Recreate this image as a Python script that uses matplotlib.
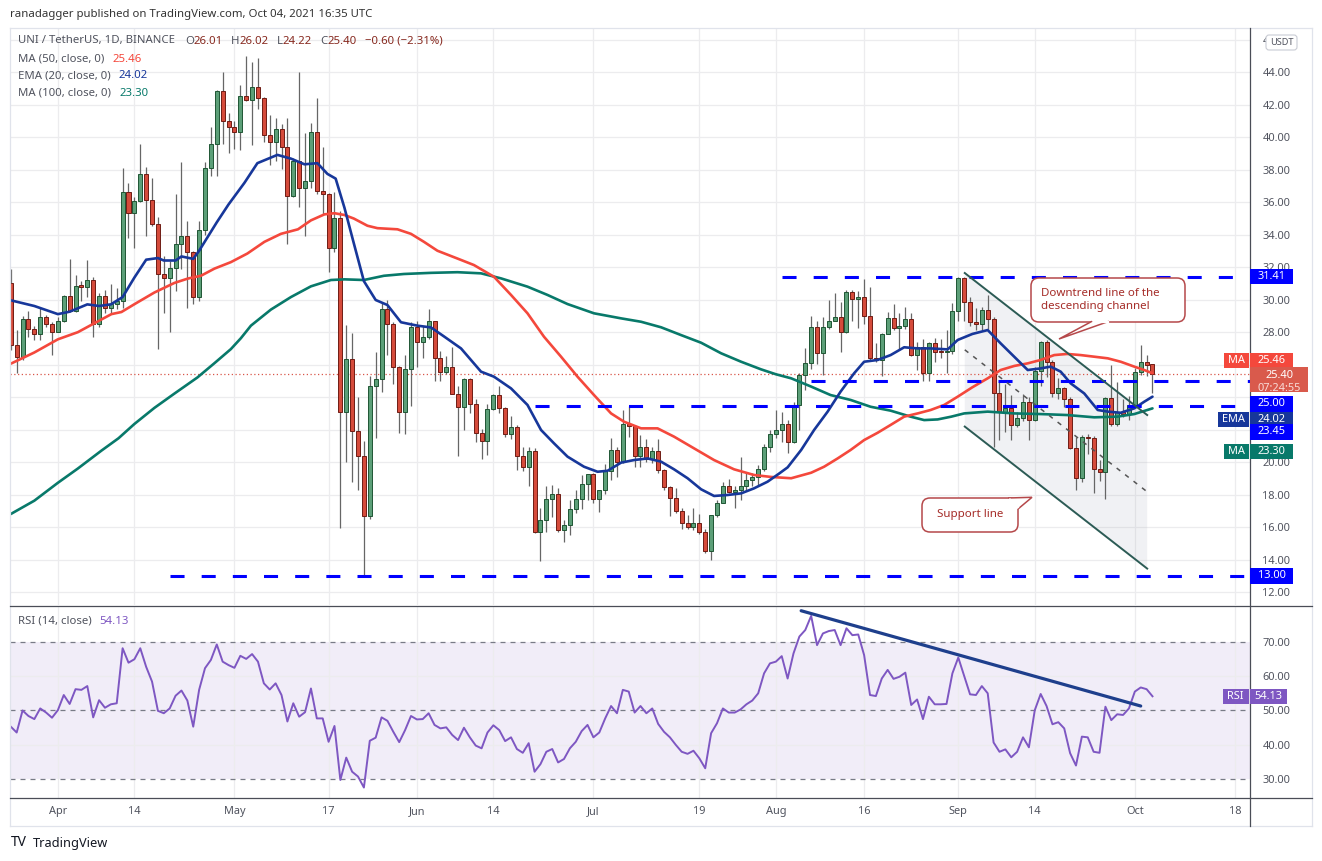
import numpy as np
import pandas as pd
import matplotlib
matplotlib.use("Agg")
import matplotlib.pyplot as plt
import matplotlib.transforms as mtransforms
from matplotlib.patches import Rectangle, FancyBboxPatch, Polygon
from matplotlib.lines import Line2D

plt.rcParams['font.family'] = ['Noto Sans', 'DejaVu Sans']

W, H = 1322, 861
START = pd.Timestamp("2021-03-24")

# UNI/USDT daily candles, Mar 24 .. Oct 4 2021: (open, high, low, close)
candles = [
    (31.0, 31.9, 26.9, 27.2), (27.2, 28.1, 25.5, 26.45), (26.45, 29.0, 26.3, 28.8), (28.8, 29.3, 27.7, 28.2), (28.2, 28.4, 27.5, 27.85),
    (27.85, 29.45, 27.5, 28.95), (28.95, 29.05, 28.3, 28.5), (28.5, 28.6, 26.6, 28.0), (28.0, 28.95, 28.0, 28.65), (28.65, 30.25, 28.6, 30.2),
    (30.2, 32.5, 29.25, 29.3), (29.3, 31.5, 29.25, 30.85), (30.85, 31.15, 29.9, 30.8), (30.8, 32.45, 30.15, 31.2), (31.2, 31.4, 27.7, 28.5),
    (28.5, 30.4, 28.3, 30.2), (30.2, 30.6, 29.15, 29.5), (29.5, 30.95, 29.15, 29.7), (29.7, 30.7, 29.4, 29.9), (29.9, 38.1, 29.5, 36.6),
    (36.6, 37.2, 33.8, 35.35), (35.35, 36.3, 33.2, 36.05), (36.05, 39.55, 36.0, 37.7), (37.7, 38.15, 33.9, 36.1), (36.1, 37.5, 34.5, 34.65),
    (34.65, 35.1, 26.95, 31.6), (31.6, 32.65, 29.15, 31.3), (31.3, 32.35, 28.0, 31.95), (31.95, 36.5, 30.5, 33.4), (33.4, 38.45, 31.9, 33.9),
    (33.9, 34.85, 29.5, 32.9), (32.9, 33.0, 29.75, 30.15), (30.15, 34.85, 29.9, 34.3), (34.3, 38.45, 34.0, 38.1), (38.1, 40.6, 37.6, 39.6),
    (39.6, 42.9, 37.6, 42.85), (42.85, 44.0, 39.6, 41.0), (41.0, 41.45, 39.0, 40.6), (40.6, 41.0, 39.25, 40.3), (40.3, 43.2, 39.2, 42.55),
    (42.55, 45.0, 42.2, 42.25), (42.25, 44.6, 39.5, 43.05), (43.05, 44.85, 41.7, 42.4), (42.4, 42.45, 39.7, 40.15), (40.15, 41.35, 38.3, 39.7),
    (39.7, 41.15, 38.5, 40.5), (40.5, 40.8, 38.05, 39.4), (39.4, 41.2, 33.4, 36.35), (36.35, 38.7, 36.3, 38.5), (38.5, 44.0, 35.7, 36.85),
    (36.85, 40.25, 33.9, 37.3), (37.3, 40.85, 36.85, 40.3), (40.3, 42.4, 36.5, 36.65), (36.65, 39.4, 35.2, 36.5), (36.5, 36.55, 31.7, 33.2),
    (33.2, 36.6, 32.95, 35.0), (35.0, 35.45, 15.95, 23.1), (23.1, 28.45, 20.0, 26.35), (26.35, 27.95, 18.8, 21.9), (21.9, 24.0, 18.3, 20.35),
    (20.35, 21.3, 12.95, 16.65), (16.65, 25.3, 16.5, 24.65), (24.65, 26.75, 21.45, 25.1), (25.1, 29.8, 24.3, 29.4), (29.4, 29.95, 26.6, 28.5),
    (28.5, 28.6, 24.8, 25.85), (25.85, 25.9, 21.8, 23.1), (23.1, 26.6, 21.7, 25.75), (25.75, 28.6, 23.45, 28.3), (28.3, 28.7, 25.85, 27.4),
    (27.4, 28.4, 26.4, 27.7), (27.7, 29.4, 27.55, 28.65), (28.65, 28.7, 25.0, 26.4), (26.4, 26.85, 25.0, 25.55), (25.55, 26.5, 25.4, 25.85),
    (25.85, 27.05, 24.2, 24.2), (24.2, 24.65, 20.4, 23.4), (23.4, 25.15, 22.0, 25.1), (25.1, 25.2, 23.0, 23.55), (23.55, 23.85, 21.25, 21.8),
    (21.8, 22.05, 20.2, 21.3), (21.3, 23.6, 20.45, 23.25), (23.25, 24.2, 23.2, 24.1), (24.1, 24.7, 23.0, 23.35), (23.35, 23.4, 21.55, 21.75),
    (21.75, 22.85, 21.4, 22.15), (22.15, 22.3, 19.5, 20.35), (20.35, 20.9, 19.45, 19.7), (19.7, 20.95, 18.5, 20.7), (20.7, 20.85, 15.65, 15.7),
    (15.7, 17.15, 13.9, 16.45), (16.45, 18.5, 15.7, 17.75), (17.75, 18.6, 16.6, 18.05), (18.05, 18.4, 15.7, 15.8), (15.8, 16.45, 15.05, 16.1),
    (16.1, 17.65, 15.5, 17.1), (17.1, 18.25, 16.85, 17.7), (17.7, 19.2, 17.1, 18.65), (18.65, 19.25, 17.65, 19.25), (19.25, 19.3, 17.5, 17.75),
    (17.75, 18.25, 16.9, 18.25), (18.25, 19.9, 18.05, 19.45), (19.45, 21.45, 18.9, 20.75), (20.75, 20.95, 19.05, 20.0), (20.0, 23.2, 19.95, 22.35),
    (22.35, 23.45, 21.55, 22.2), (22.2, 22.25, 19.7, 20.35), (20.35, 21.65, 19.7, 20.95), (20.95, 21.4, 20.0, 20.2), (20.2, 20.9, 19.95, 20.65),
    (20.65, 21.4, 19.3, 19.5), (19.5, 19.55, 18.3, 18.45), (18.45, 18.5, 16.65, 17.8), (17.8, 18.4, 16.85, 17.0), (17.0, 17.15, 15.85, 16.25),
    (16.25, 16.75, 15.9, 16.0), (16.0, 17.15, 15.8, 16.25), (16.25, 16.8, 15.6, 15.7), (15.7, 15.9, 14.4, 14.5), (14.5, 16.75, 13.95, 16.75),
    (16.75, 17.65, 16.6, 17.5), (17.5, 18.75, 17.45, 18.55), (18.55, 18.95, 18.1, 18.15), (18.15, 18.5, 17.2, 18.3), (18.3, 20.3, 17.65, 18.5),
    (18.5, 19.35, 18.2, 18.9), (18.9, 19.3, 18.5, 19.1), (19.1, 19.8, 18.5, 19.55), (19.55, 21.1, 19.45, 20.9), (20.9, 21.95, 20.6, 21.7),
    (21.7, 23.2, 21.5, 21.95), (21.95, 23.05, 21.25, 22.35), (22.35, 22.6, 20.55, 21.25), (21.25, 23.7, 21.2, 23.5), (23.5, 25.45, 21.95, 25.35),
    (25.35, 27.0, 24.45, 26.1), (26.1, 29.0, 25.75, 28.3), (28.3, 28.7, 26.05, 26.7), (26.7, 28.9, 25.35, 28.3), (28.3, 30.0, 28.2, 28.7),
    (28.7, 30.4, 28.65, 28.9), (28.9, 29.85, 26.8, 28.0), (28.0, 30.6, 27.95, 30.45), (30.45, 30.6, 28.65, 30.05), (30.05, 30.5, 28.25, 30.15),
    (30.15, 31.25, 28.5, 29.0), (29.0, 30.75, 26.3, 26.4), (26.4, 27.3, 26.15, 26.25), (26.25, 27.95, 25.3, 27.9), (27.9, 29.25, 27.85, 28.85),
    (28.85, 29.75, 28.1, 28.25), (28.25, 29.15, 26.95, 28.35), (28.35, 29.55, 28.2, 28.8), (28.8, 29.2, 26.5, 26.6), (26.6, 27.4, 25.65, 27.05),
    (27.05, 27.55, 25.0, 25.45), (25.45, 27.4, 25.0, 27.35), (27.35, 27.65, 26.15, 26.8), (26.8, 27.6, 26.4, 26.75), (26.75, 28.15, 25.5, 26.85),
    (26.85, 29.8, 26.65, 29.3), (29.3, 31.4, 28.65, 31.3), (31.3, 31.4, 28.7, 29.85), (29.85, 30.15, 28.35, 28.6), (28.6, 29.45, 28.1, 28.5),
    (28.5, 29.55, 28.1, 29.35), (29.35, 30.3, 28.2, 28.8), (28.8, 28.95, 20.95, 24.25), (24.25, 24.95, 21.35, 23.1), (23.1, 24.8, 21.85, 23.3),
    (23.3, 24.1, 21.35, 22.3), (22.3, 23.1, 22.15, 22.7), (22.7, 24.2, 22.5, 23.7), (23.7, 24.0, 21.35, 22.6), (22.6, 25.85, 22.55, 25.6),
    (25.6, 27.45, 24.65, 27.4), (27.4, 27.5, 25.25, 26.15), (26.15, 26.3, 24.0, 24.25), (24.25, 25.15, 23.9, 24.55), (24.55, 24.6, 23.4, 23.85),
    (23.85, 24.0, 20.8, 20.85), (20.85, 21.55, 18.3, 19.0), (19.0, 21.65, 18.8, 21.55), (21.55, 21.7, 20.5, 21.45), (21.45, 21.6, 18.1, 19.6),
    (19.6, 20.1, 18.85, 19.4), (19.4, 24.0, 17.7, 23.95), (23.95, 26.0, 22.2, 22.35), (22.35, 24.95, 22.2, 23.05), (23.05, 23.85, 22.8, 22.95),
    (22.95, 24.05, 22.6, 23.5), (23.5, 25.8, 23.4, 25.55), (25.55, 27.2, 25.35, 26.15), (26.15, 26.6, 25.3, 26.0), (26.01, 26.02, 24.22, 25.4),
]

# moving averages (candle index, value)
ema20_x = [0, 4, 8, 10, 13, 15, 17, 19, 21, 23, 25, 26, 28, 29, 31, 32, 35, 37, 39.7, 41.9, 45.3, 47.6, 49.9, 52.1, 53.8, 55.2,
           56.7, 58.3, 60, 62, 64, 66.3, 69.1, 71.4, 73.6, 76.5, 79.9, 82.1, 85, 87.8, 90.1, 92.3, 94.6, 97.4, 99.7, 101.4,
           103.7, 105.9, 108.2, 110.5, 112.7, 115, 117.3, 119.5, 121.8, 124.1, 126.3, 128.6, 130.6, 132, 134.3, 136.5, 138.8,
           141, 143.3, 145, 147.3, 149.5, 151.8, 154.1, 156.3, 159.2, 160.9, 163.4, 166, 168.2, 170.5, 172.8, 175, 176.7,
           178.4, 180.1, 182.4, 184.7, 186.4, 188.6, 190.9, 192.6, 194]
ema20_y = [29.95, 29.6, 29.1, 29.25, 29.7, 29.6, 29.7, 30.15, 31.35, 32.45, 32.55, 32.4, 32.4, 32.65, 32.5, 33.0, 34.75, 35.85,
           37.18, 38.39, 38.9, 38.67, 38.32, 38.39, 37.73, 37.44, 35.64, 33.44, 31.13, 29.97, 29.66, 28.6, 28.39, 28.28, 27.73,
           26.99, 25.56, 25.25, 24.53, 23.51, 21.97, 21.15, 20.33, 19.71, 19.4, 19.46, 19.96, 20.12, 20.22, 20.02, 19.55, 19.0,
           18.32, 17.91, 17.97, 18.07, 18.38, 18.79, 19.3, 19.67, 20.74, 21.97, 23.1, 24.33, 25.46, 26.17, 26.28, 26.58, 27.06,
           26.99, 26.99, 26.93, 27.51, 27.88, 28.12, 27.3, 26.48, 25.66, 25.76, 25.87, 25.56, 24.84, 24.22, 23.2, 23.1, 23.03,
           23.3, 23.71, 24.02]

ma50_x = [0, 4, 8, 11.4, 14.2, 17.1, 18.8, 21, 24.4, 27.8, 30.1, 32.3, 34.6, 37.4, 40.2, 43.1, 45.9, 48.8, 51, 53.3, 55, 56.7,
          58.3, 60.6, 62.3, 65.7, 68, 70.2, 72.5, 75.9, 78.7, 82.1, 85, 87.8, 90.6, 93.5, 96.3, 99.1, 102, 104.2, 107.1, 109.9,
          112.7, 116.1, 119.5, 122.9, 126.3, 129.2, 132.6, 136, 138.2, 140.5, 142.7, 145, 147.3, 149.5, 151.8, 154.1, 156.3,
          158.6, 160.9, 163.4, 166, 168.2, 170.5, 172.8, 175, 177.3, 179.5, 181.8, 184.1, 186.4, 188.6, 190.9, 192.6, 194]
ma50_y = [26.05, 26.74, 27.55, 27.99, 28.54, 29.1, 29.23, 29.71, 30.43, 31.02, 31.29, 31.46, 31.9, 32.3, 32.83, 33.55, 34.04,
          34.32, 34.87, 35.24, 35.31, 35.2, 34.98, 34.54, 34.39, 34.32, 34.04, 33.55, 33.0, 32.52, 32.12, 31.4, 30.28, 29.15,
          27.71, 26.48, 25.25, 24.12, 22.99, 22.48, 22.07, 22.07, 21.56, 20.84, 20.12, 19.55, 19.2, 19.08, 19.0, 19.34, 19.71,
          20.22, 20.74, 21.35, 21.8, 22.28, 22.79, 22.99, 23.2, 23.51, 24.02, 24.6, 25.15, 25.66, 25.91, 26.07, 26.28, 26.58,
          26.65, 26.58, 26.48, 26.38, 26.17, 25.87, 25.66, 25.46]

ma100_x = [0, 4, 8, 11.4, 15.4, 18.3, 21, 24.4, 27.8, 31.7, 34.6, 37.4, 39.1, 40.8, 44.2, 47.6, 51, 54.4, 56.7, 60, 63.4, 66.8,
           71.4, 75.9, 79.9, 83.3, 87.8, 91.2, 94.6, 99.1, 103.7, 107.1, 110.5, 113.9, 117.3, 120.7, 124.1, 127.5, 130, 132.6,
           136, 139.3, 142.7, 146.1, 149.5, 152.9, 155.2, 157.5, 159.8, 162, 166, 170.5, 175, 179.5, 184.1, 188, 190.9, 194]
ma100_y = [16.8, 17.62, 18.72, 19.6, 20.7, 21.46, 22.34, 23.33, 24.21, 25.2, 26.08, 26.95, 27.62, 28.39, 29.38, 30.15, 30.81,
           31.2, 31.24, 31.2, 31.46, 31.57, 31.64, 31.68, 31.61, 31.3, 30.79, 30.28, 29.72, 29.15, 28.84, 28.63, 28.29, 27.81,
           27.34, 26.69, 26.17, 25.7, 25.4, 25.15, 24.64, 24.12, 23.82, 23.4, 23.16, 22.79, 22.58, 22.62, 22.79, 22.99, 23.1,
           22.99, 22.95, 22.89, 22.75, 22.79, 22.95, 23.30]

rsi14 = [45.3, 43.6, 50.0, 48.4, 47.5, 50.6, 49.4, 47.9, 50.1, 54.5,
         51.9, 56.2, 56.0, 57.1, 48.0, 53.0, 50.8, 51.8, 52.1, 68.1,
         63.9, 64.9, 68.1, 62.7, 58.4, 49.9, 49.2, 50.6, 54.3, 55.8,
         52.9, 45.3, 56.0, 62.3, 64.7, 69.2, 64.2, 63.2, 62.4, 65.9,
         65.0, 66.4, 64.2, 57.9, 56.1, 57.9, 54.5, 46.8, 52.1, 48.2,
         49.5, 56.4, 47.7, 47.7, 40.9, 45.5, 29.8, 36.3, 32.2, 30.8,
         27.6, 41.2, 42.1, 48.0, 47.0, 43.8, 40.8, 44.3, 48.4, 47.4,
         47.5, 49.2, 45.8, 44.8, 45.1, 42.9, 41.4, 45.0, 42.2, 39.8,
         39.0, 43.6, 45.7, 44.3, 41.1, 42.2, 38.8, 37.7, 40.5, 32.2,
         34.4, 38.0, 38.8, 34.9, 35.9, 39.0, 40.9, 44.0, 45.8, 42.2,
         43.6, 47.7, 51.3, 49.2, 56.0, 55.5, 49.4, 51.3, 49.2, 50.6,
         46.1, 43.8, 42.2, 40.0, 38.0, 37.4, 38.3, 36.1, 33.2, 43.4,
         46.3, 50.6, 49.4, 49.4, 50.3, 51.8, 52.9, 55.0, 60.8, 63.7,
         64.2, 65.8, 59.3, 66.6, 71.5, 73.4, 77.5, 69.0, 72.4, 73.1,
         73.4, 69.0, 73.9, 71.9, 72.1, 66.1, 54.5, 54.2, 59.3, 61.8,
         59.2, 59.8, 61.0, 51.6, 53.2, 47.5, 54.0, 51.8, 51.8, 51.9,
         60.8, 65.4, 60.0, 54.7, 54.5, 57.1, 55.0, 40.7, 38.0, 38.7,
         36.4, 38.0, 42.2, 39.3, 50.1, 54.8, 51.3, 46.0, 46.6, 44.8,
         37.6, 34.0, 42.4, 42.2, 38.0, 37.7, 51.1, 47.2, 48.9, 48.7,
         50.6, 55.5, 56.7, 56.2, 54.13]

# horizontal levels and where they start
levels = [31.41, 25.00, 23.45, 13.00]
level_start = ["2021-08-02", "2021-08-07", "2021-06-21", "2021-04-20"]

# descending channel (index, upper-line price), lower line shifted down
channel_x = [162.1, 193.1]
channel_top = [31.63, 22.89]
channel_drop = 9.45

rsi_trend_x = [134.3, 192.0]
rsi_trend_y = [79.0, 51.3]

tick_dates = ["2021-04-01", "2021-04-14", "2021-05-01", "2021-05-17", "2021-06-01", "2021-06-14", "2021-07-01",
              "2021-07-19", "2021-08-01", "2021-08-16", "2021-09-01", "2021-09-14", "2021-10-01", "2021-10-18"]
tick_labels = ["Apr", "14", "May", "17", "Jun", "14", "Jul", "19", "Aug", "16", "Sep", "14", "Oct", "18"]
price_ticks = np.arange(12, 47, 2)
hidden_price_ticks = [22, 24, 26]   # covered by the stacked price labels

opens, highs, lows, closes = [np.array(v) for v in zip(*candles)]
idx = np.arange(len(candles))


def day_index(d):
    return (pd.Timestamp(d) - START).days


GREEN, GREEN_EDGE = '#5c9f78', '#1f5634'
RED, RED_EDGE = '#d54b3b', '#6f1c14'
C_EMA, C_MA50, C_MA100 = '#17379a', '#f4483c', '#08796a'
C_RSI = '#7e57c2'
BLUE = '#0000ff'
GRAY_TXT = '#50535e'
FS = 7.9

fig = plt.figure(figsize=(W / 100, H / 100), dpi=100)
pix = mtransforms.Affine2D().scale(1.0 / W, 1.0 / H) + fig.transFigure


def frac(x0, y0, x1, y1):
    return [x0 / W, 1 - y1 / H, (x1 - x0) / W, (y1 - y0) / H]


ax = fig.add_axes(frac(10, 28, 1250, 605))
ax2 = fig.add_axes(frac(10, 606, 1250, 798), sharex=ax)

x_lo, x_hi = (10 - 10.8) / 5.885, (1250 - 10.8) / 5.885
ax.set_xlim(x_lo, x_hi)
ax.set_ylim(11.2, 46.708)
ax2.set_ylim(24.56, 80.38)

# candles
up = closes >= opens
ax.vlines(idx, lows, highs, color='#666666', lw=0.9, zorder=3)
ax.bar(idx, np.maximum(np.abs(closes - opens), 0.07), bottom=np.minimum(opens, closes), width=0.68,
       color=np.where(up, GREEN, RED), edgecolor=np.where(up, GREEN_EDGE, RED_EDGE), linewidth=0.7, zorder=4)

# moving averages
ax.plot(ma100_x, ma100_y, color=C_MA100, lw=1.9, zorder=5, solid_capstyle='round')
ax.plot(ma50_x, ma50_y, color=C_MA50, lw=1.9, zorder=5, solid_capstyle='round')
ax.plot(ema20_x, ema20_y, color=C_EMA, lw=1.9, zorder=6, solid_capstyle='round')

# current price dotted line
ax.axhline(closes[-1], color='#d9574a', lw=0.9, ls=(0, (1, 2)), zorder=2)

# horizontal levels
for lv, st in zip(levels, level_start):
    ax.hlines(lv, day_index(st), x_hi, color=BLUE, lw=2.2, linestyles=(0, (4.6, 5.6)), zorder=7)

# descending channel
cx = np.array(channel_x)
ctop = np.array(channel_top)
cbot = ctop - channel_drop
ax.add_patch(Polygon([(cx[0], ctop[0]), (cx[1], ctop[1]), (cx[1], cbot[1]), (cx[0], cbot[0])],
                     closed=True, facecolor='#8a93a8', alpha=0.12, lw=0, zorder=1))
ax.plot(cx, ctop, color='#2c5b55', lw=1.4, zorder=7)
ax.plot(cx, cbot, color='#2c5b55', lw=1.4, zorder=7)
ax.plot(cx, (ctop + cbot) / 2, color='#555555', lw=1.1, ls=(0, (3, 4)), zorder=7)

# RSI pane
ax2.axhspan(30, 70, color=C_RSI, alpha=0.1, lw=0, zorder=0)
for lv in (30, 50, 70):
    ax2.axhline(lv, color='#787b86', lw=0.9, ls=(0, (4, 4)), zorder=1)
ax2.plot(idx, rsi14, color=C_RSI, lw=1.4, zorder=3)
ax2.plot(rsi_trend_x, rsi_trend_y, color='#1e3f8c', lw=2.3, zorder=4, solid_capstyle='round')

# ticks and grids
tick_pos = [day_index(d) for d in tick_dates]
ax.set_yticks(price_ticks)
ax.set_yticklabels(["" if v in hidden_price_ticks else f"{v:.2f}" for v in price_ticks])
ax2.set_yticks([30, 40, 50, 60, 70])
ax2.set_yticklabels(["30.00", "40.00", "50.00", "60.00", "70.00"])
ax2.set_xticks(tick_pos)
ax2.set_xticklabels(tick_labels)
ax2.set_xlim(x_lo, x_hi)
for a in (ax, ax2):
    a.yaxis.tick_right()
    a.tick_params(axis='y', length=0, pad=9, labelsize=FS, labelcolor=GRAY_TXT)
    a.tick_params(axis='x', length=0, pad=6, labelsize=FS, labelcolor=GRAY_TXT)
    a.grid(True, color='#ececee', lw=0.9, zorder=0)
    a.set_axisbelow(True)
    for s in a.spines.values():
        s.set_visible(False)
ax.tick_params(axis='x', labelbottom=False)
ax2.grid(False, axis='y')
for lv in (40, 60):
    ax2.axhline(lv, color='#ececee', lw=0.9, zorder=0)


# frame lines (pixel layout)
def pline(xs, ys, **kw):
    fig.add_artist(Line2D(xs, [H - y for y in ys], transform=pix, **kw))


pline([10, 1312], [28, 28], color='#e0e3eb', lw=0.9)
pline([10, 10], [28, 826], color='#e0e3eb', lw=0.9)
pline([1312, 1312], [28, 826], color='#e0e3eb', lw=0.9)
pline([10, 1312], [826, 826], color='#e0e3eb', lw=0.9)
pline([10, 1312], [605.5, 605.5], color='#4a4d57', lw=0.9)
pline([10, 1312], [798, 798], color='#4a4d57', lw=0.9)
pline([1249.5, 1249.5], [28, 826], color='#4a4d57', lw=0.9)


def ptext(x, y, s, **kw):
    return fig.text(x, H - y, s, transform=pix, **kw)


def prect(x0, y0, x1, y1, **kw):
    fig.add_artist(Rectangle((x0, H - y1), x1 - x0, y1 - y0, transform=pix, **kw))


renderer = fig.canvas.get_renderer()


def chain(x, y, parts, fs=8.2):
    for s, c, gap in parts:
        t = ptext(x, y, s, color=c, fontsize=fs, va='center', ha='left')
        x += t.get_window_extent(renderer=renderer).width + gap


def ypx(a, v):
    return H - a.transData.transform((0, v))[1]


# header and legends
ptext(10, 14, "ranadagger published on TradingView.com, Oct 04, 2021 16:35 UTC",
      fontsize=8.2, color='#333333', va='center')
VAL = '#87291f'
o, h_, l_, c = candles[-1]
chg = c - candles[-2][3]
chain(18, 41, [("UNI / TetherUS, 1D, BINANCE", GRAY_TXT, 10), ("O", GRAY_TXT, 0), (f"{o:.2f}", VAL, 8),
               ("H", GRAY_TXT, 0), (f"{h_:.2f}", VAL, 8), ("L", GRAY_TXT, 0), (f"{l_:.2f}", VAL, 8),
               ("C", GRAY_TXT, 0), (f"{c:.2f}", VAL, 8),
               (f"\u2212{abs(chg):.2f} (\u2212{abs(chg) / candles[-2][3] * 100:.2f}%)", VAL, 0)])
chain(18, 59, [("MA (50, close, 0)", GRAY_TXT, 8), (f"{ma50_y[-1]:.2f}", C_MA50, 0)])
chain(18, 76, [("EMA (20, close, 0)", GRAY_TXT, 8), (f"{ema20_y[-1]:.2f}", C_EMA, 0)])
chain(18, 93, [("MA (100, close, 0)", GRAY_TXT, 8), (f"{ma100_y[-1]:.2f}", C_MA100, 0)])
chain(18, 621, [("RSI (14, close)", GRAY_TXT, 8), (f"{rsi14[-1]:.2f}", C_RSI, 0)])

# USDT unit box
fig.add_artist(FancyBboxPatch((1266, H - 50), 31, 15, boxstyle="round,pad=0,rounding_size=3",
                              transform=pix, facecolor='white', edgecolor='#c9ccd4', lw=0.8, zorder=10))
ptext(1281.5, 42.5, "USDT", fontsize=6.6, color=GRAY_TXT, ha='center', va='center', zorder=11)


def axis_label(yc, text, face, tag=None, tag_x0=None, x1=1293, h=15.5):
    prect(1250, yc - h / 2, x1, yc + h / 2, facecolor=face, edgecolor='none', zorder=10)
    ptext((1250 + x1) / 2, yc, text, color='white', fontsize=FS, ha='center', va='center', zorder=11)
    if tag:
        prect(tag_x0, yc - h / 2, 1248.5, yc + h / 2, facecolor=face, edgecolor='none', zorder=10)
        ptext((tag_x0 + 1248.5) / 2, yc, tag, color='white', fontsize=FS, ha='center', va='center', zorder=11)


# right-axis price labels (stacked like the platform does)
axis_label(ypx(ax, 31.41), "31.41", BLUE)
axis_label(ypx(ax, 13.00), "13.00", BLUE)
axis_label(ypx(ax, ma50_y[-1]) - 13, f"{ma50_y[-1]:.2f}", C_MA50, "MA", 1224)
yc = ypx(ax, closes[-1])
prect(1250, yc - 7.5, 1308, yc + 18, facecolor='#d95a4c', edgecolor='none', zorder=10)
ptext(1279, yc + 1.5, f"{closes[-1]:.2f}", color='white', fontsize=FS, ha='center', va='center', zorder=11)
ptext(1279, yc + 14, "07:24:55", color='#f8dcd7', fontsize=FS, ha='center', va='center', zorder=11)
axis_label(ypx(ax, 25.00) + 23, "25.00", BLUE)
axis_label(ypx(ax, ema20_y[-1]) + 23, f"{ema20_y[-1]:.2f}", C_EMA, "EMA", 1218)
axis_label(ypx(ax, 23.45) + 26, "23.45", BLUE)
axis_label(ypx(ax, ma100_y[-1]) + 43, f"{ma100_y[-1]:.2f}", C_MA100, "MA", 1224)
axis_label(ypx(ax2, rsi14[-1]), f"{rsi14[-1]:.2f}", C_RSI, "RSI", 1223, x1=1287)

# callouts
TXT_RED, EDGE_RED = '#a52c28', '#b5484a'
fig.add_artist(FancyBboxPatch((1031, H - 322), 154, 44, boxstyle="round,pad=0,rounding_size=8",
                              transform=pix, facecolor='white', edgecolor=EDGE_RED, lw=1.1, zorder=12))
fig.add_artist(Polygon([(1092, H - 321.3), (1059, H - 339), (1109, H - 321.3)], closed=False,
                       transform=pix, facecolor='white', edgecolor=EDGE_RED, lw=1.1, zorder=13))
pline([1093.5, 1107.5], [321.8, 321.8], color='white', lw=1.6, zorder=14)
ptext(1041, 293, "Downtrend line of the", color=TXT_RED, fontsize=8.3, va='center', zorder=15)
ptext(1041, 306, "descending channel", color=TXT_RED, fontsize=8.3, va='center', zorder=15)

fig.add_artist(FancyBboxPatch((922, H - 532), 96, 34, boxstyle="round,pad=0,rounding_size=8",
                              transform=pix, facecolor='white', edgecolor=EDGE_RED, lw=1.1, zorder=12))
fig.add_artist(Polygon([(1008, H - 498), (1032, H - 497.3), (1018, H - 509)], closed=False,
                       transform=pix, facecolor='white', edgecolor=EDGE_RED, lw=1.1, zorder=13))
pline([1010, 1017.6], [500, 507], color='white', lw=2.0, zorder=14)
ptext(970, 515, "Support line", color=TXT_RED, fontsize=8.3, ha='center', va='center', zorder=15)

# footer logo
ptext(11, 843, "TV", fontsize=10, fontweight='heavy', color='#131722', va='center')
ptext(33, 843, "TradingView", fontsize=9.2, color='#131722', va='center')

fig.savefig("out.png", dpi=100, facecolor='white')
